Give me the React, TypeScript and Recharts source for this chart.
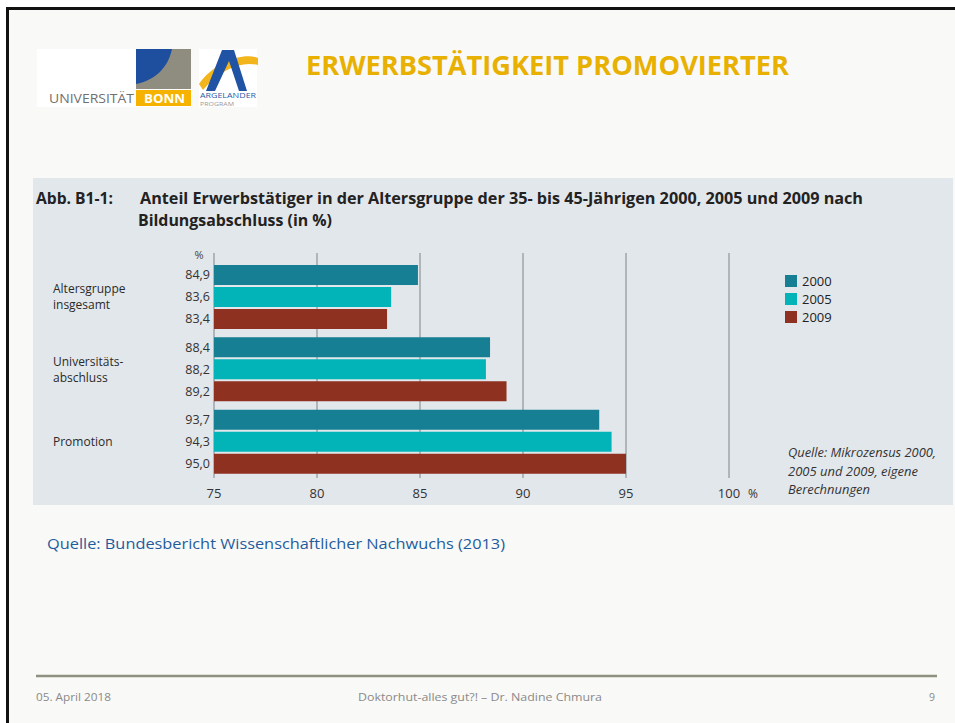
import { Bar, BarChart, CartesianGrid, LabelList, Legend, XAxis, YAxis } from 'recharts'

// Anteil Erwerbstätiger (35-45 J.) nach Bildungsabschluss, in %
const categories = ['Altersgruppe insgesamt', 'Universitätsabschluss', 'Promotion']
const categoryLines = [['Altersgruppe', 'insgesamt'], ['Universitäts-', 'abschluss'], ['Promotion']]
const values2000 = [84.9, 88.4, 93.7]
const values2005 = [83.6, 88.2, 94.3]
const values2009 = [83.4, 89.2, 95.0]
const xTicks = [75, 80, 85, 90, 95, 100]
const years = ['2000', '2005', '2009']

const data = categories.map((name, i) => ({
  name,
  y2000: values2000[i],
  y2005: values2005[i],
  y2009: values2009[i],
}))

const colors = ['#167f93', '#02b3b8', '#8f3121']
const chartFont = '"Liberation Sans Narrow", "Open Sans", sans-serif'
const slideFont = '"Open Sans", sans-serif'

const fmt = (v: any) => Number(v).toFixed(1).replace('.', ',')

function T({ x, y, w, size, weight = 400, fill = '#222', italic = false, font = slideFont, children }: any) {
  return (
    <text
      x={x}
      y={y}
      fontSize={size}
      fontWeight={weight}
      fontStyle={italic ? 'italic' : 'normal'}
      fill={fill}
      fontFamily={font}
      textLength={w}
      lengthAdjust="spacingAndGlyphs"
    >
      {children}
    </text>
  )
}

function CategoryTick(props: any) {
  const i = categories.indexOf(props.payload.value)
  const lines = categoryLines[i] || [props.payload.value]
  const n = lines.length
  return (
    <g>
      {lines.map((line, k) => (
        <text
          key={k}
          x={20}
          y={props.y + 4 + (k - (n - 1) / 2) * 16}
          fontSize={12}
          fontFamily={chartFont}
          fill="#2a2a2a"
        >
          {line}
        </text>
      ))}
    </g>
  )
}

function ValueTick(props: any) {
  const v = props.payload.value
  return (
    <g>
      <text x={props.x} y={320} textAnchor="middle" fontSize={13} fontFamily={chartFont} fill="#333">
        {v}
      </text>
      {v === 100 && (
        <text x={props.x + 24} y={320} textAnchor="middle" fontSize={12} fontFamily={chartFont} fill="#333">
          %
        </text>
      )}
    </g>
  )
}

function LegendBox(props: any) {
  const items = props.payload || []
  return (
    <div style={{ fontFamily: chartFont, fontSize: 13, color: '#222' }}>
      {items.map((it: any) => (
        <div key={it.value} style={{ display: 'flex', alignItems: 'center', height: 18 }}>
          <span style={{ width: 12, height: 12, background: it.color, display: 'inline-block', marginRight: 5 }} />
          <span>{it.value}</span>
        </div>
      ))}
    </div>
  )
}

export default function App() {
  return (
    <div style={{ position: 'absolute', left: 0, top: 0, width: 955, height: 723, background: '#fff', overflow: 'hidden' }}>
      {/* slide */}
      <div
        style={{
          position: 'absolute',
          left: 6,
          top: 7,
          width: 980,
          height: 740,
          background: '#f9f9f7',
          borderTop: '3px solid #111',
          borderLeft: '3px solid #111',
        }}
      />
      {/* chart panel */}
      <div style={{ position: 'absolute', left: 33, top: 178, width: 920, height: 327, background: '#e2e7eb' }} />
      <div style={{ position: 'absolute', left: 33, top: 178 }}>
        <BarChart
          width={920}
          height={327}
          data={data}
          layout="vertical"
          margin={{ top: 75, right: 224, left: 0, bottom: 0 }}
          barSize={20}
          barGap={2}
        >
          <CartesianGrid horizontal={false} stroke="#8f9498" strokeWidth={1.2} />
          <XAxis
            type="number"
            domain={[75, 100]}
            ticks={xTicks}
            axisLine={false}
            tickLine={false}
            height={27}
            tick={<ValueTick />}
          />
          <YAxis
            type="category"
            dataKey="name"
            width={181}
            axisLine={false}
            tickLine={false}
            padding={{ top: 8, bottom: 0 }}
            tick={<CategoryTick />}
          />
          {['y2000', 'y2005', 'y2009'].map((key, i) => (
            <Bar key={key} dataKey={key} name={years[i]} fill={colors[i]} isAnimationActive={false}>
              <LabelList
                dataKey={key}
                position="left"
                offset={4}
                formatter={fmt}
                style={{ fontSize: 12.5, fontFamily: chartFont, fill: '#333' }}
              />
            </Bar>
          ))}
          <Legend
            layout="vertical"
            align="center"
            verticalAlign="middle"
            content={<LegendBox />}
            wrapperStyle={{ left: 752, top: 94, width: 80 }}
          />
        </BarChart>
      </div>

      {/* slide texts and logos */}
      <svg width={955} height={723} style={{ position: 'absolute', left: 0, top: 0, pointerEvents: 'none' }}>
        {/* Uni Bonn logo */}
        <rect x={37} y={49} width={154} height={58} fill="#fff" />
        <rect x={136} y={49} width={55} height={40} fill="#8f8d80" />
        <path d="M136,49 H172 C168,68 155,80 136,84 Z" fill="#1d4f9e" />
        <rect x={136} y={90} width={55} height={16} fill="#f5b300" />
        <T x={49} y={103} w={85} size={13} fill="#707070">UNIVERSITÄT</T>
        <T x={144} y={103} w={41} size={13} weight={700} fill="#fff">BONN</T>
        {/* Argelander logo */}
        <rect x={199} y={49} width={58} height={58} fill="#fff" />
        <path d="M199,84 C214,62 244,52 258,58 L258,65 C240,61 220,70 203,90 Z" fill="#f2b51c" />
        <path d="M206,91 L222,50 L234,50 L247,91 L239,91 L229,61 L215,91 Z" fill="#2053a4" />
        <T x={200} y={98} w={56} size={7} fill="#2a5aa8">ARGELANDER</T>
        <T x={200} y={106} w={34} size={6} fill="#9a9a9a">PROGRAM</T>

        <T x={306} y={75} w={483} size={26} weight={700} fill="#e8b000">ERWERBSTÄTIGKEIT PROMOVIERTER</T>

        {/* chart heading */}
        <T x={36} y={204} w={77} size={16} weight={700} fill="#222">Abb. B1-1:</T>
        <T x={140} y={204} w={723} size={16} weight={700} fill="#222">
          Anteil Erwerbstätiger in der Altersgruppe der 35- bis 45-Jährigen 2000, 2005 und 2009 nach
        </T>
        <T x={138} y={226} w={194} size={16} weight={700} fill="#222">Bildungsabschluss (in %)</T>
        <text x={199} y={259} textAnchor="middle" fontSize={11} fontFamily={chartFont} fill="#444">%</text>
        <T x={788} y={457} w={148} size={12.5} italic font={chartFont} fill="#333">Quelle: Mikrozensus 2000,</T>
        <T x={788} y={476} w={130} size={12.5} italic font={chartFont} fill="#333">2005 und 2009, eigene</T>
        <T x={788} y={494} w={82} size={12.5} italic font={chartFont} fill="#333">Berechnungen</T>

        <T x={47} y={549} w={458} size={15} fill="#1f5c9e">Quelle: Bundesbericht Wissenschaftlicher Nachwuchs (2013)</T>

        {/* footer */}
        <line x1={36} y1={676} x2={937} y2={676} stroke="#8e9080" strokeWidth={2.5} />
        <T x={36} y={701} w={75} size={11} fill="#8a8a8a">05. April 2018</T>
        <T x={358} y={701} w={244} size={11} fill="#8a8a8a">Doktorhut-alles gut?! – Dr. Nadine Chmura</T>
        <T x={929} y={701} w={6} size={11} fill="#8a8a8a">9</T>
      </svg>
    </div>
  )
}
